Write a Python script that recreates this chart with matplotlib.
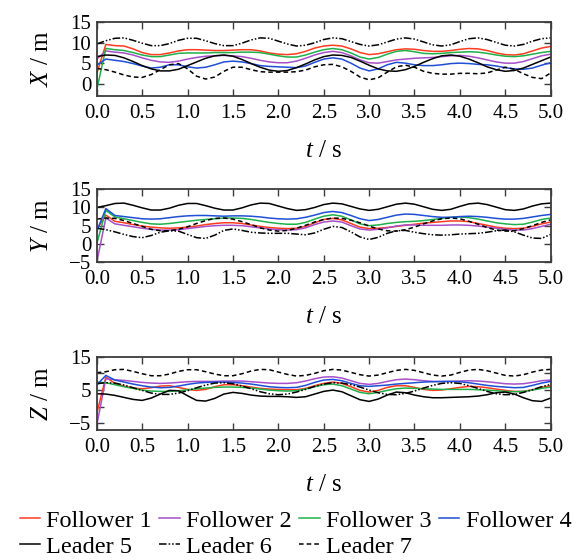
import numpy as np
import matplotlib.pyplot as plt

plt.rcParams['font.family'] = 'serif'
plt.rcParams['font.serif'] = ['Liberation Serif', 'DejaVu Serif']
plt.rcParams['mathtext.fontset'] = 'custom'
plt.rcParams['mathtext.rm'] = 'Liberation Serif'
plt.rcParams['mathtext.it'] = 'Liberation Serif:italic'

# time grid (s)
t = np.linspace(0.0, 5.0, 51)

# ---- X / m ----
x_f1 = [2.5, 9.6, 9.3, 9.2, 8.5, 7.6, 7.1, 7.1, 7.5, 8.0, 8.3, 8.3, 8.2, 8.1, 8.1, 8.2, 8.3, 8.3, 8.0, 7.5,
        7.2, 7.1, 7.3, 7.9, 8.7, 9.2, 9.4, 9.2, 8.5, 7.6, 7.1, 7.3, 7.8, 8.3, 8.5, 8.4, 8.1, 7.9, 7.9, 8.1,
        8.4, 8.6, 8.5, 8.1, 7.5, 7.1, 7.0, 7.3, 8.0, 8.7, 9.1]
x_f2 = [6.0, 8.0, 7.7, 7.5, 7.0, 6.3, 5.7, 5.3, 5.2, 5.5, 6.0, 6.4, 6.7, 6.8, 6.9, 6.8, 6.6, 6.2, 5.7, 5.3,
        5.1, 5.1, 5.5, 6.2, 7.0, 7.6, 7.9, 7.6, 6.8, 5.8, 5.1, 5.0, 5.4, 5.8, 6.0, 6.2, 6.3, 6.4, 6.6, 6.8,
        6.9, 6.7, 6.3, 5.8, 5.3, 5.0, 5.0, 5.4, 6.1, 6.8, 7.2]
x_f3 = [-1.5, 8.6, 8.3, 8.1, 7.6, 7.0, 6.6, 6.6, 7.0, 7.4, 7.5, 7.5, 7.5, 7.6, 7.6, 7.6, 7.7, 7.7, 7.6, 7.2,
        6.8, 6.5, 6.5, 7.0, 7.7, 8.3, 8.6, 8.3, 7.5, 6.5, 6.0, 6.4, 7.2, 7.9, 8.1, 7.8, 7.4, 7.3, 7.4, 7.6,
        7.7, 7.8, 7.7, 7.4, 7.0, 6.7, 6.6, 6.8, 7.2, 7.6, 7.9]
x_f4 = [4.5, 6.0, 5.7, 5.4, 4.9, 4.3, 3.8, 4.0, 4.6, 4.6, 4.1, 3.8, 4.0, 4.6, 5.3, 5.5, 5.3, 4.9, 4.4, 4.2,
        4.1, 4.0, 3.9, 4.3, 5.2, 6.0, 6.3, 6.0, 5.0, 3.8, 3.1, 3.6, 4.6, 5.2, 5.0, 4.6, 4.4, 4.4, 4.6, 4.9,
        5.0, 4.9, 4.7, 4.6, 4.3, 3.9, 3.6, 3.5, 3.8, 4.5, 5.1]
x_l5 = [6.6, 7.0, 6.9, 6.3, 5.4, 4.4, 3.6, 3.1, 3.1, 3.5, 4.4, 5.3, 6.2, 6.8, 7.0, 6.7, 5.9, 4.9, 4.0, 3.3,
        3.0, 3.2, 3.9, 4.8, 5.8, 6.6, 7.0, 6.9, 6.4, 5.5, 4.5, 3.6, 3.1, 3.0, 3.4, 4.2, 5.2, 6.1, 6.8, 7.0,
        6.7, 6.0, 5.1, 4.1, 3.4, 3.0, 3.2, 3.8, 4.7, 5.6, 6.5]
x_l6 = [9.7, 10.5, 11.1, 11.2, 10.6, 9.9, 9.3, 9.3, 9.8, 10.6, 11.1, 11.1, 10.5, 9.8, 9.3, 9.3, 9.9, 10.7,
        11.2, 11.1, 10.4, 9.7, 9.2, 9.4, 10.0, 10.8, 11.2, 11.0, 10.3, 9.6, 9.2, 9.5, 10.2, 10.9, 11.2, 10.9,
        10.2, 9.5, 9.2, 9.5, 10.3, 11.0, 11.2, 10.8, 10.1, 9.4, 9.2, 9.6, 10.4, 11.0, 11.2]
x_l7 = [3.7, 3.4, 2.8, 2.1, 1.6, 1.5, 2.2, 3.4, 4.6, 4.9, 3.6, 1.8, 1.1, 1.6, 3.0, 4.0, 4.0, 3.4, 2.9, 2.8,
        2.8, 2.8, 2.9, 3.3, 4.1, 4.6, 4.7, 4.1, 3.0, 1.6, 0.9, 1.4, 2.8, 4.1, 4.5, 4.0, 3.0, 2.5, 2.3, 2.3,
        2.5, 2.5, 2.4, 2.6, 3.3, 4.0, 3.5, 2.4, 1.5, 1.2, 2.6]

# ---- Y / m ----
y_f1 = [4.0, 7.9, 6.2, 5.8, 5.3, 4.9, 4.6, 4.4, 4.3, 4.4, 4.6, 4.9, 5.3, 5.6, 5.8, 5.8, 5.6, 5.2, 4.8, 4.5,
        4.3, 4.2, 4.3, 4.8, 5.8, 6.7, 7.0, 6.6, 5.6, 4.6, 4.2, 4.3, 4.5, 4.8, 5.1, 5.4, 5.7, 5.9, 6.1, 6.3,
        6.3, 6.1, 5.6, 5.1, 4.6, 4.3, 4.2, 4.3, 4.8, 5.5, 6.0]
y_f2 = [-5.0, 7.1, 5.5, 5.1, 4.7, 4.3, 4.0, 3.8, 3.8, 3.9, 4.2, 4.5, 4.8, 5.0, 5.1, 5.1, 5.0, 4.7, 4.4, 4.1,
        3.9, 3.8, 3.9, 4.4, 5.3, 6.0, 6.3, 6.0, 5.0, 4.1, 3.8, 4.0, 4.4, 4.9, 5.2, 5.2, 5.1, 5.1, 5.1, 5.2,
        5.2, 5.1, 4.9, 4.6, 4.3, 4.0, 3.8, 3.8, 4.2, 4.8, 5.4]
y_f3 = [0.0, 9.2, 7.4, 6.9, 6.4, 5.9, 5.5, 5.4, 5.6, 5.9, 6.2, 6.5, 6.7, 6.9, 7.1, 7.1, 7.0, 6.7, 6.3, 5.9,
        5.6, 5.4, 5.4, 5.9, 6.8, 7.6, 8.0, 7.6, 6.6, 5.5, 5.0, 5.2, 5.6, 5.9, 6.1, 6.2, 6.4, 6.7, 7.0, 7.3,
        7.4, 7.2, 6.8, 6.3, 5.8, 5.5, 5.3, 5.4, 6.0, 6.7, 7.1]
y_f4 = [3.5, 9.7, 7.8, 7.5, 7.2, 6.9, 6.8, 6.9, 7.2, 7.5, 7.7, 7.8, 7.8, 7.7, 7.6, 7.7, 7.7, 7.6, 7.4, 7.1,
        6.9, 6.8, 6.9, 7.3, 7.9, 8.6, 8.9, 8.6, 7.8, 6.9, 6.4, 6.7, 7.3, 7.9, 8.2, 8.1, 7.8, 7.5, 7.3, 7.3,
        7.5, 7.6, 7.5, 7.3, 7.0, 6.8, 6.8, 7.0, 7.4, 7.8, 8.1]
y_l5 = [10.0, 10.5, 11.1, 11.2, 10.6, 9.9, 9.3, 9.3, 9.8, 10.6, 11.1, 11.1, 10.5, 9.8, 9.3, 9.3, 9.9, 10.7,
        11.2, 11.1, 10.4, 9.7, 9.2, 9.4, 10.0, 10.8, 11.2, 11.0, 10.3, 9.6, 9.2, 9.5, 10.2, 10.9, 11.2, 10.9,
        10.2, 9.5, 9.2, 9.5, 10.3, 11.0, 11.2, 10.8, 10.1, 9.4, 9.2, 9.6, 10.4, 11.0, 11.2]
y_l6 = [4.3, 3.9, 3.3, 2.6, 2.0, 1.7, 2.3, 3.2, 3.6, 3.5, 2.6, 1.7, 1.5, 2.4, 3.7, 4.1, 3.7, 3.2, 3.0, 2.9,
        2.9, 2.9, 2.7, 2.5, 3.0, 4.0, 4.8, 4.5, 3.3, 1.9, 1.2, 1.8, 2.9, 3.6, 3.7, 3.2, 2.8, 2.5, 2.4, 2.5,
        2.7, 2.8, 2.9, 3.2, 3.6, 3.8, 3.3, 2.4, 1.6, 1.5, 2.6]
y_l7 = [6.8, 7.1, 7.0, 6.4, 5.6, 4.8, 4.0, 3.6, 3.6, 4.0, 4.7, 5.6, 6.4, 7.0, 7.1, 6.8, 6.1, 5.3, 4.4, 3.8,
        3.5, 3.7, 4.3, 5.1, 6.0, 6.7, 7.1, 7.0, 6.5, 5.8, 4.9, 4.1, 3.6, 3.5, 3.9, 4.6, 5.5, 6.3, 6.9, 7.1,
        6.9, 6.2, 5.4, 4.5, 3.8, 3.5, 3.6, 4.2, 5.0, 5.9, 6.6]

# ---- Z / m ----
z_f1 = [-2.0, 8.9, 7.0, 6.2, 5.6, 5.4, 5.7, 6.2, 6.3, 5.8, 5.2, 4.9, 5.2, 6.0, 6.6, 6.6, 6.3, 5.9, 5.5, 5.3,
        5.2, 5.1, 5.1, 5.5, 6.3, 7.0, 7.4, 7.0, 6.0, 4.9, 4.4, 4.9, 5.8, 6.3, 6.3, 5.8, 5.2, 4.9, 5.0, 5.4,
        5.8, 6.1, 6.0, 5.7, 5.3, 4.9, 4.6, 4.6, 5.1, 5.8, 6.3]
z_f2 = [-5.5, 8.4, 8.1, 7.9, 7.6, 7.3, 7.1, 7.0, 7.1, 7.3, 7.5, 7.6, 7.6, 7.6, 7.7, 7.7, 7.7, 7.5, 7.3, 7.1,
        7.0, 7.0, 7.2, 7.7, 8.4, 8.9, 9.0, 8.6, 7.8, 7.0, 6.7, 7.0, 7.6, 8.1, 8.3, 8.1, 7.8, 7.6, 7.5, 7.6,
        7.7, 7.8, 7.7, 7.5, 7.2, 6.9, 6.8, 6.9, 7.3, 7.8, 8.0]
z_f3 = [7.4, 7.2, 6.6, 6.0, 5.5, 5.0, 4.7, 4.6, 4.6, 4.8, 5.1, 5.4, 5.6, 5.8, 5.9, 5.9, 5.8, 5.6, 5.3, 5.0,
        4.8, 4.7, 4.8, 5.3, 6.0, 6.6, 6.8, 6.3, 5.3, 4.3, 3.9, 4.3, 4.9, 5.4, 5.6, 5.5, 5.4, 5.3, 5.2, 5.2,
        5.2, 5.2, 5.1, 5.0, 4.8, 4.6, 4.5, 4.6, 5.0, 5.5, 5.9]
z_f4 = [6.5, 9.4, 8.0, 7.4, 6.8, 6.3, 5.9, 5.7, 5.8, 6.2, 6.7, 7.1, 7.3, 7.4, 7.4, 7.3, 7.1, 6.8, 6.4, 6.0,
        5.8, 5.7, 5.8, 6.4, 7.3, 8.0, 8.2, 7.8, 7.0, 6.3, 6.1, 6.3, 6.5, 6.8, 7.0, 7.2, 7.4, 7.5, 7.6, 7.6,
        7.5, 7.2, 6.8, 6.4, 6.1, 5.9, 5.7, 5.8, 6.4, 7.1, 7.6]
z_l5 = [3.9, 3.8, 3.4, 2.8, 2.2, 1.9, 2.6, 3.8, 4.9, 4.8, 3.3, 1.9, 1.7, 2.5, 3.8, 4.3, 4.0, 3.5, 3.2, 3.1,
        3.1, 3.0, 2.8, 3.0, 3.8, 4.6, 5.0, 4.5, 3.3, 2.1, 1.6, 2.3, 3.5, 4.4, 4.2, 3.5, 3.0, 2.7, 2.7, 2.8,
        2.9, 3.0, 3.2, 3.6, 4.2, 4.4, 3.8, 2.7, 1.8, 1.6, 2.6]
z_l6 = [6.9, 7.2, 7.1, 6.5, 5.7, 4.9, 4.1, 3.7, 3.7, 4.1, 4.8, 5.7, 6.5, 7.1, 7.2, 6.9, 6.2, 5.4, 4.5, 3.9,
        3.6, 3.8, 4.4, 5.2, 6.1, 6.8, 7.2, 7.1, 6.6, 5.9, 5.0, 4.2, 3.7, 3.6, 4.0, 4.7, 5.6, 6.4, 7.0, 7.2,
        7.0, 6.3, 5.5, 4.6, 3.9, 3.6, 3.7, 4.3, 5.1, 6.0, 6.7]
z_l7 = [10.2, 10.5, 11.1, 11.2, 10.6, 9.9, 9.3, 9.3, 9.8, 10.6, 11.1, 11.1, 10.5, 9.8, 9.3, 9.3, 9.9, 10.7,
        11.2, 11.1, 10.4, 9.7, 9.2, 9.4, 10.0, 10.8, 11.2, 11.0, 10.3, 9.6, 9.2, 9.5, 10.2, 10.9, 11.2, 10.9,
        10.2, 9.5, 9.2, 9.5, 10.3, 11.0, 11.2, 10.8, 10.1, 9.4, 9.2, 9.6, 10.4, 11.0, 11.2]

names = ['Follower 1', 'Follower 2', 'Follower 3', 'Follower 4', 'Leader 5', 'Leader 6', 'Leader 7']
colors = ['#ff3c1e', '#a64fc9', '#1fb04a', '#1e4fd6', 'black', 'black', 'black']
dashes = [None, None, None, None, None, (5, 1.3, 1, 1.3, 1, 1.3), (3, 2)]

panels = [
    ([x_f1, x_f2, x_f3, x_f4, x_l5, x_l6, x_l7], r'$X$ / m', (-3, 15),
     [0, 5, 10, 15], ['0', '5', '10', '15']),
    ([y_f1, y_f2, y_f3, y_f4, y_l5, y_l6, y_l7], r'$Y$ / m', (-5, 15),
     [-5, 0, 5, 10, 15], ['\u22125', '0', '5', '10', '15']),
    ([z_f1, z_f2, z_f3, z_f4, z_l5, z_l6, z_l7], r'$Z$ / m', (-7, 15),
     [-5, 0, 5, 10, 15], ['\u22125', '', '5', '', '15']),
]

# axes boxes [left, bottom, width, height] in figure fractions
boxes = [
    [0.168, 0.829, 0.788, 0.131],
    [0.168, 0.532, 0.788, 0.130],
    [0.168, 0.232, 0.788, 0.131],
]

fig = plt.figure(figsize=(5.76, 5.6), dpi=100)
spine_col = '#3c3c3c'

handles = []
for (series, ylab, ylim, yt, ytl), box in zip(panels, boxes):
    ax = fig.add_axes(box)
    lines = []
    for vals, name, c, d in zip(series, names, colors, dashes):
        ln, = ax.plot(t, vals, color=c, lw=1.1, label=name)
        if d is not None:
            ln.set_dashes(d)
        lines.append(ln)
    handles = lines
    ax.set_xlim(0, 5)
    ax.set_ylim(*ylim)
    ax.set_xticks(np.arange(0, 5.01, 0.5))
    ax.set_xticklabels(['%.1f' % v for v in np.arange(0, 5.01, 0.5)])
    ax.set_yticks(yt)
    ax.set_yticklabels(ytl)
    ax.tick_params(direction='in', top=True, right=True, length=5, width=1.0,
                   color=spine_col, labelsize=15)
    ax.tick_params(axis='x', pad=6)
    ax.tick_params(axis='y', pad=4)
    for sp in ax.spines.values():
        sp.set_color(spine_col)
        sp.set_linewidth(1.3)
    ax.set_ylabel(ylab, fontsize=18, va='center')
    ax.yaxis.set_label_coords(-0.12, 0.5)
    ax.set_xlabel(r'$t$ / s', fontsize=18, va='center')
    ax.xaxis.set_label_coords(0.5, -0.75)

# legend filled row by row: reorder so matplotlib's column filling matches
order = [0, 4, 1, 5, 2, 6, 3]
fig.legend([handles[i] for i in order], [names[i] for i in order],
           loc='lower left', bbox_to_anchor=(0.03, 0.0), ncol=4, frameon=False,
           fontsize=17.5, handlelength=0.85, handletextpad=0.25, columnspacing=0.3,
           labelspacing=0.15, borderpad=0.1, borderaxespad=0.0)

fig.savefig('out.png', dpi=100, facecolor='white')
